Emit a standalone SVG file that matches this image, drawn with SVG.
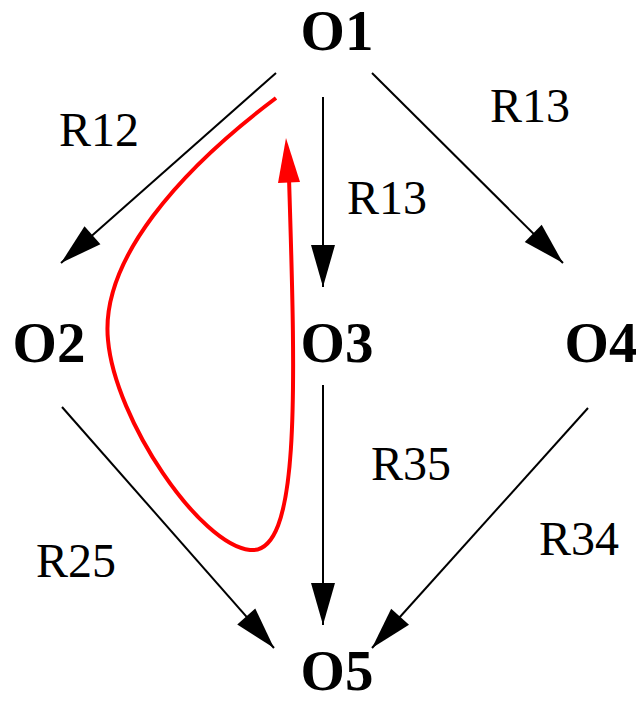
<svg xmlns="http://www.w3.org/2000/svg" width="636" height="701" viewBox="0 0 636 701">
<style>
.node{font-family:"Liberation Serif","Times New Roman",serif;font-weight:bold;font-size:57px;fill:#000;text-anchor:middle}
.lbl{font-family:"Liberation Serif","Times New Roman",serif;font-size:48px;fill:#000}
.edge{stroke:#000;stroke-width:2;fill:none}
</style>
<defs>
<marker id="ah" viewBox="-43 -13 44 26" refX="0" refY="0" markerWidth="44" markerHeight="26" markerUnits="userSpaceOnUse" orient="auto">
<path d="M0,0 L-42,-12 L-42,12 Z" fill="#000"/>
</marker>
</defs>
<g id="connectors">
<line class="edge" x1="276" y1="73" x2="61" y2="263" marker-end="url(#ah)"/>
<line class="edge" x1="323" y1="97" x2="323" y2="287" marker-end="url(#ah)"/>
<line class="edge" x1="372" y1="73" x2="563" y2="263" marker-end="url(#ah)"/>
<line class="edge" x1="62" y1="407" x2="274" y2="648" marker-end="url(#ah)"/>
<line class="edge" x1="323" y1="385" x2="323" y2="625" marker-end="url(#ah)"/>
<line class="edge" x1="588" y1="408" x2="372" y2="648" marker-end="url(#ah)"/>
<path d="M276,98 C180,170 100,260 108,340 C115,420 200,545 250,550 C300,555 296,400 289,178" stroke="#ff0000" stroke-width="4" fill="none"/>
<polygon points="286,138 278,183 300,182" fill="#ff0000"/>
<text class="lbl" x="59" y="146">R12</text>
<text class="lbl" x="490" y="122">R13</text>
<text class="lbl" x="347" y="214">R13</text>
<text class="lbl" x="371" y="480">R35</text>
<text class="lbl" x="36" y="577">R25</text>
<text class="lbl" x="539" y="555">R34</text>
</g>
<g id="O1"><text class="node" x="337" y="50">O1</text></g>
<g id="O2"><text class="node" x="49" y="362">O2</text></g>
<g id="O3"><text class="node" x="337" y="362">O3</text></g>
<g id="O4"><text class="node" x="601" y="362">O4</text></g>
<g id="O5"><text class="node" x="337" y="690">O5</text></g>
</svg>
